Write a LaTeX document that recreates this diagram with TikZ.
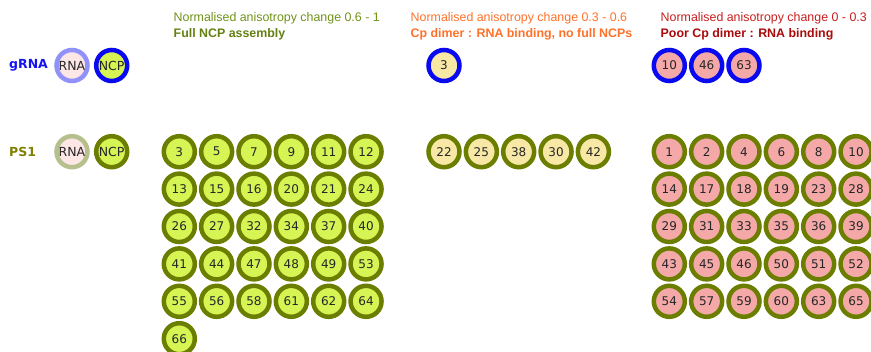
\documentclass[tikz,border=0pt]{standalone}
\usepackage{fontspec}
\setmainfont{DejaVu Sans}
\newfontfamily\headfont{Liberation Sans}
\definecolor{ringolive}{RGB}{108,126,0}
\definecolor{ringblue}{RGB}{10,10,240}
\definecolor{lightblue}{RGB}{145,145,250}
\definecolor{lightolive}{RGB}{182,192,140}
\definecolor{limefill}{RGB}{214,244,84}
\definecolor{palefill}{RGB}{248,232,165}
\definecolor{rosefill}{RGB}{245,168,168}
\definecolor{rnafill}{RGB}{252,230,230}
\definecolor{headgreen}{RGB}{112,146,24}
\definecolor{headgreenb}{RGB}{100,128,18}
\definecolor{headorange}{RGB}{255,112,40}
\definecolor{headred}{RGB}{200,30,30}
\definecolor{headredb}{RGB}{170,10,10}
\definecolor{labblue}{RGB}{20,20,240}
\definecolor{labolive}{RGB}{128,128,0}

\begin{document}
\begin{tikzpicture}
[x=1pt,y=-1pt
,bub/.style={circle,draw,line width=4.5pt,minimum size=31pt,inner sep=0pt,text={black!85},font=\fontsize{12}{12}\selectfont}
,full/.style={bub,draw=ringolive,fill=limefill}
,half/.style={bub,draw=ringolive,fill=palefill}
,poor/.style={bub,draw=ringolive,fill=rosefill}
,gbub/.style={draw=ringblue}
,key/.style={bub,font=\fontsize{12.5}{12.5}\selectfont}
,head/.style={anchor=base west,inner sep=0pt,font=\headfont\fontsize{12.4}{12.4}\selectfont}
,headb/.style={anchor=base west,inner sep=0pt,font=\headfont\bfseries\fontsize{12.4}{12.4}\selectfont}
,lab/.style={anchor=west,inner sep=0pt,font=\bfseries\fontsize{12.5}{12.5}\selectfont}]
\useasboundingbox (0,0) rectangle (871,352);
% column headings
\node[head,text=headgreen] (hg1) at (173.5,21.5) {Normalised anisotropy change 0.6 - 1};
\node[headb,text=headgreenb] (hg2) at (173.5,37.5) {Full NCP assembly};
\node[head,text=headorange] (ho1) at (410.5,21.5) {Normalised anisotropy change 0.3 - 0.6};
\node[headb,text=headorange] (ho2) at (410.5,37.5) {Cp dimer : RNA binding, no full NCPs};
\node[head,text=headred] (hr1) at (660.5,21.5) {Normalised anisotropy change 0 - 0.3};
\node[headb,text=headredb] (hr2) at (660.5,37.5) {Poor Cp dimer : RNA binding};
% row labels and keys
\node[lab,text=labblue] (lgrna) at (9,65.5) {gRNA};
\node[lab,text=labolive] (lps) at (9,151.7) {PS1};
\node[key,draw=lightblue,fill=rnafill] (grna) at (72,65.5) {RNA};
\node[key,draw=ringblue,fill=limefill] (gncp) at (111.7,65.5) {NCP};
\node[key,draw=lightolive,fill=rnafill] (prna) at (72,151.7) {RNA};
\node[key,draw=ringolive,fill=limefill] (pncp) at (111.7,151.7) {NCP};
% gRNA row
\node[half,gbub] (b3) at (444,65.5) {3};
\node[poor,gbub] (b10) at (669.3,65.5) {10};
\node[poor,gbub] (b46) at (706.7,65.5) {46};
\node[poor,gbub] (b63) at (744,65.5) {63};
% PS1 grids
\foreach \n [count=\i from 0] in {3,5,7,9,11,12,13,15,16,20,21,24,26,27,32,34,37,40,41,44,47,48,49,53,55,56,58,61,62,64,66} {
  \pgfmathtruncatemacro\c{mod(\i,6)}
  \pgfmathtruncatemacro\r{floor(\i/6)}
  \node[full] (f\n) at (179.3+37.35*\c,151.7+37.4*\r) {\n};
}
\foreach \n [count=\i from 0] in {22,25,38,30,42}
  \node[half] (h\n) at (444+37.35*\i,151.7) {\n};
\foreach \n [count=\i from 0] in {1,2,4,6,8,10,14,17,18,19,23,28,29,31,33,35,36,39,43,45,46,50,51,52,54,57,59,60,63,65} {
  \pgfmathtruncatemacro\c{mod(\i,6)}
  \pgfmathtruncatemacro\r{floor(\i/6)}
  \node[poor] (p\n) at (669.3+37.35*\c,151.7+37.4*\r) {\n};
}
\end{tikzpicture}
\end{document}
